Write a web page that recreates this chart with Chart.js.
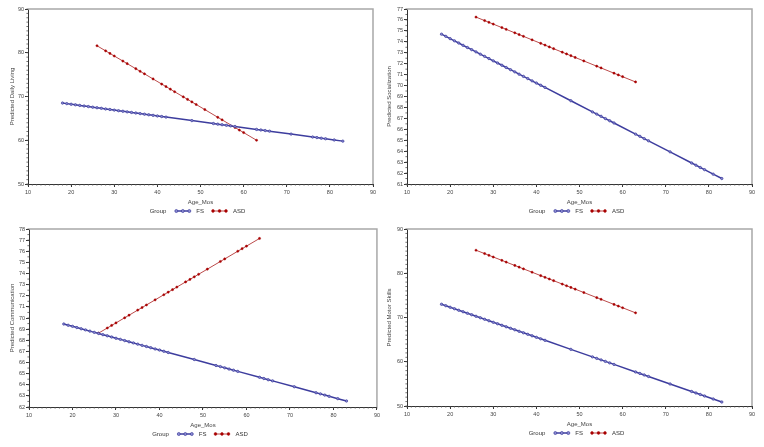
<!DOCTYPE html>
<html>
<head>
<meta charset="utf-8">
<script src="https://cdn.jsdelivr.net/npm/chart.js@4.4.1/dist/chart.umd.min.js"></script>
<style>
    body { margin: 0; background: #fff; width: 764px; height: 447px; overflow: hidden; position: relative; }
    canvas { position: absolute; }
</style>
</head>
<body>
<canvas id="p1" width="382" height="224" style="left:0;top:0"></canvas>
<canvas id="p2" width="382" height="224" style="left:382px;top:0"></canvas>
<canvas id="p3" width="382" height="223" style="left:0;top:224px"></canvas>
<canvas id="p4" width="382" height="223" style="left:382px;top:224px"></canvas>
<script>
// ages of the plotted subjects (months)
const ageFS = [18, 19, 20, 21, 22, 23, 24, 25, 26, 27, 28, 29, 30, 31, 32, 33, 34, 35, 36, 37, 38, 39, 40, 41, 42, 48, 53, 54, 55, 56, 57, 58, 63, 64, 65, 66, 71, 76, 77, 78, 79, 81, 83];
const ageASD = [26, 28, 29, 30, 32, 33, 35, 36, 37, 39, 41, 42, 43, 44, 46, 47, 48, 49, 51, 54, 55, 58, 59, 60, 63];

// predicted scores
const dailyFS = [68.50, 68.37, 68.23, 68.10, 67.96, 67.83, 67.70, 67.56, 67.43, 67.30, 67.16, 67.03, 66.89, 66.76, 66.63, 66.49, 66.36, 66.23, 66.09, 65.96, 65.82, 65.69, 65.56, 65.42, 65.29, 64.49, 63.82, 63.68, 63.55, 63.42, 63.28, 63.15, 62.48, 62.35, 62.21, 62.08, 61.41, 60.74, 60.61, 60.47, 60.34, 60.07, 59.80];
const dailyASD = [81.60, 80.43, 79.85, 79.26, 78.10, 77.51, 76.35, 75.76, 75.18, 74.01, 72.84, 72.26, 71.68, 71.09, 69.92, 69.34, 68.76, 68.17, 67.01, 65.25, 64.67, 62.92, 62.33, 61.75, 60.00];

const socialFS = [74.70, 74.50, 74.29, 74.09, 73.89, 73.68, 73.48, 73.28, 73.08, 72.87, 72.67, 72.47, 72.26, 72.06, 71.86, 71.65, 71.45, 71.25, 71.04, 70.84, 70.64, 70.43, 70.23, 70.03, 69.83, 68.61, 67.59, 67.39, 67.19, 66.98, 66.78, 66.58, 65.56, 65.36, 65.15, 64.95, 63.94, 62.92, 62.72, 62.51, 62.31, 61.90, 61.50];
const socialASD = [76.26, 75.94, 75.78, 75.62, 75.30, 75.14, 74.82, 74.66, 74.50, 74.18, 73.86, 73.70, 73.53, 73.37, 73.05, 72.89, 72.73, 72.57, 72.25, 71.77, 71.61, 71.13, 70.97, 70.81, 70.33];

const commFS = [69.46, 69.35, 69.25, 69.14, 69.03, 68.93, 68.82, 68.71, 68.61, 68.50, 68.40, 68.29, 68.18, 68.08, 67.97, 67.86, 67.76, 67.65, 67.54, 67.44, 67.33, 67.22, 67.12, 67.01, 66.90, 66.27, 65.73, 65.63, 65.52, 65.41, 65.31, 65.20, 64.67, 64.56, 64.45, 64.35, 63.82, 63.28, 63.18, 63.07, 62.96, 62.75, 62.54];
const commASD = [68.64, 69.10, 69.33, 69.56, 70.02, 70.25, 70.71, 70.94, 71.17, 71.63, 72.09, 72.32, 72.55, 72.78, 73.24, 73.47, 73.70, 73.93, 74.39, 75.08, 75.31, 76.00, 76.23, 76.46, 77.15];

const motorFS = [73.00, 72.66, 72.32, 71.98, 71.64, 71.30, 70.96, 70.62, 70.28, 69.94, 69.60, 69.26, 68.92, 68.58, 68.24, 67.90, 67.56, 67.22, 66.88, 66.54, 66.20, 65.86, 65.52, 65.18, 64.84, 62.80, 61.10, 60.76, 60.42, 60.08, 59.74, 59.40, 57.70, 57.36, 57.02, 56.68, 54.98, 53.28, 52.94, 52.60, 52.26, 51.58, 50.90];
const motorASD = [85.20, 84.44, 84.05, 83.67, 82.91, 82.52, 81.76, 81.38, 80.99, 80.23, 79.46, 79.08, 78.70, 78.32, 77.55, 77.17, 76.79, 76.41, 75.64, 74.49, 74.11, 72.96, 72.58, 72.20, 71.05];

// tick labels
const xTicks = [10, 20, 30, 40, 50, 60, 70, 80, 90];
const ticksDaily = [50, 60, 70, 80, 90];
const ticksSocial = [61, 62, 63, 64, 65, 66, 67, 68, 69, 70, 71, 72, 73, 74, 75, 76, 77];
const ticksComm = [62, 63, 64, 65, 66, 67, 68, 69, 70, 71, 72, 73, 74, 75, 76, 77, 78];
const ticksMotor = [50, 60, 70, 80, 90];

const groupNames = ['FS', 'ASD'];

Chart.defaults.font.family = "'Liberation Sans', Arial, sans-serif";

// gray frame on top/right plus SAS style minor ticks
const frameAndTicks = {
    id: 'frameAndTicks',
    beforeDatasetsDraw(chart) {
        const { ctx, chartArea: a } = chart;
        const opt = chart.options.plugins.frameAndTicks;
        ctx.save();
        ctx.strokeStyle = '#a8a8a8';
        ctx.lineWidth = 1.5;
        ctx.beginPath();
        ctx.moveTo(a.left, a.top);
        ctx.lineTo(a.right, a.top);
        ctx.lineTo(a.right, a.bottom);
        ctx.stroke();

        const xs = chart.scales.x, ys = chart.scales.y;
        ctx.strokeStyle = '#555';
        ctx.lineWidth = 0.8;
        ctx.beginPath();
        for (let v = xs.min; v <= xs.max + 1e-9; v += opt.xMinor) {
            const px = xs.getPixelForValue(v);
            ctx.moveTo(px, a.bottom);
            ctx.lineTo(px, a.bottom + 1.6);
        }
        for (let v = ys.min; v <= ys.max + 1e-9; v += opt.yMinor) {
            const py = ys.getPixelForValue(v);
            ctx.moveTo(a.left, py);
            ctx.lineTo(a.left - 1.6, py);
        }
        ctx.stroke();
        ctx.restore();
    }
};

// legend: "Group  -o-o-o FS  -o-o-o ASD"
const groupLegend = {
    id: 'groupLegend',
    afterDraw(chart) {
        const { ctx, chartArea: a } = chart;
        const y = a.bottom + 27;
        const sw = 13, gapTitle = 10, gapLabel = 7, gapItem = 9;
        ctx.save();
        ctx.font = "6px 'Liberation Sans', Arial, sans-serif";
        ctx.textBaseline = 'middle';
        const sets = chart.data.datasets;
        let total = ctx.measureText('Group').width + gapTitle;
        sets.forEach((d, i) => {
            total += sw + gapLabel + ctx.measureText(d.label).width;
            if (i < sets.length - 1) total += gapItem;
        });
        let x = (a.left + a.right) / 2 - total / 2 - 3;
        ctx.fillStyle = '#333';
        ctx.fillText('Group', x, y);
        x += ctx.measureText('Group').width + gapTitle;
        sets.forEach(d => {
            ctx.strokeStyle = d.borderColor;
            ctx.lineWidth = d.borderWidth;
            ctx.beginPath();
            ctx.moveTo(x, y);
            ctx.lineTo(x + sw, y);
            ctx.stroke();
            [0, sw / 2, sw].forEach(o => {
                ctx.beginPath();
                ctx.arc(x + o, y, d.pointRadius + 0.3, 0, Math.PI * 2);
                ctx.fillStyle = d.pointBackgroundColor;
                ctx.fill();
                ctx.lineWidth = d.pointBorderWidth;
                ctx.strokeStyle = d.pointBorderColor;
                ctx.stroke();
            });
            x += sw + gapLabel;
            ctx.fillStyle = '#333';
            ctx.fillText(d.label, x, y);
            x += ctx.measureText(d.label).width + gapItem;
        });
        ctx.restore();
    }
};

function makePanel(id, box, yTitle, yTicks, yMinor, fsVals, asdVals) {
    const cv = document.getElementById(id);
    const W = cv.width, H = cv.height;
    const xAxisH = 22;

    new Chart(cv, {
        type: 'scatter',
        data: {
            datasets: [{
                label: groupNames[0],
                data: ageFS.map((a, i) => ({ x: a, y: fsVals[i] })),
                showLine: true,
                borderColor: '#3d3d9e',
                borderWidth: 1.5,
                pointRadius: 1.2,
                pointBackgroundColor: '#8c8cd0',
                pointBorderColor: '#3d3d9e',
                pointBorderWidth: 0.7
            }, {
                label: groupNames[1],
                data: ageASD.map((a, i) => ({ x: a, y: asdVals[i] })),
                showLine: true,
                borderColor: '#bb4a4a',
                borderWidth: 1,
                pointRadius: 1.1,
                pointBackgroundColor: '#a80000',
                pointBorderColor: '#a80000',
                pointBorderWidth: 0.5
            }]
        },
        options: {
            responsive: false,
            animation: false,
            layout: {
                padding: { left: 0, top: box.top, right: W - box.right, bottom: H - box.bottom - xAxisH }
            },
            plugins: {
                legend: { display: false },
                tooltip: { enabled: false },
                frameAndTicks: { xMinor: 1, yMinor: yMinor }
            },
            scales: {
                x: {
                    type: 'linear',
                    min: xTicks[0],
                    max: xTicks[xTicks.length - 1],
                    afterFit: s => { s.height = xAxisH; },
                    grid: { drawOnChartArea: false, tickLength: 3, tickColor: '#333' },
                    border: { color: '#333', width: 1 },
                    ticks: { stepSize: xTicks[1] - xTicks[0], font: { size: 5.5 }, color: '#444', padding: 2, maxRotation: 0, autoSkip: false },
                    title: { display: true, text: 'Age_Mos', font: { size: 6 }, color: '#444', padding: { top: 0, bottom: 0 } }
                },
                y: {
                    min: yTicks[0],
                    max: yTicks[yTicks.length - 1],
                    afterFit: s => { s.width = box.left; },
                    grid: { drawOnChartArea: false, tickLength: 3, tickColor: '#333' },
                    border: { color: '#333', width: 1 },
                    ticks: { stepSize: yTicks[1] - yTicks[0], font: { size: 5.5 }, color: '#444', padding: 1, autoSkip: false },
                    title: { display: true, text: yTitle, font: { size: 6 }, color: '#444', padding: { top: box.titleX - 3.6, bottom: 0 } }
                }
            }
        },
        plugins: [frameAndTicks, groupLegend]
    });
}

makePanel('p1', { left: 28, right: 373, top: 9, bottom: 184, titleX: 12 }, 'Predicted Daily Living', ticksDaily, 1, dailyFS, dailyASD);
makePanel('p2', { left: 25, right: 370, top: 9, bottom: 184, titleX: 7 }, 'Predicted Socialization', ticksSocial, 0.5, socialFS, socialASD);
makePanel('p3', { left: 29, right: 378, top: 5, bottom: 183, titleX: 12 }, 'Predicted Communication', ticksComm, 0.5, commFS, commASD);
makePanel('p4', { left: 25, right: 370, top: 5, bottom: 182, titleX: 7 }, 'Predicted Motor Skills', ticksMotor, 1, motorFS, motorASD);
</script>
</body>
</html>
